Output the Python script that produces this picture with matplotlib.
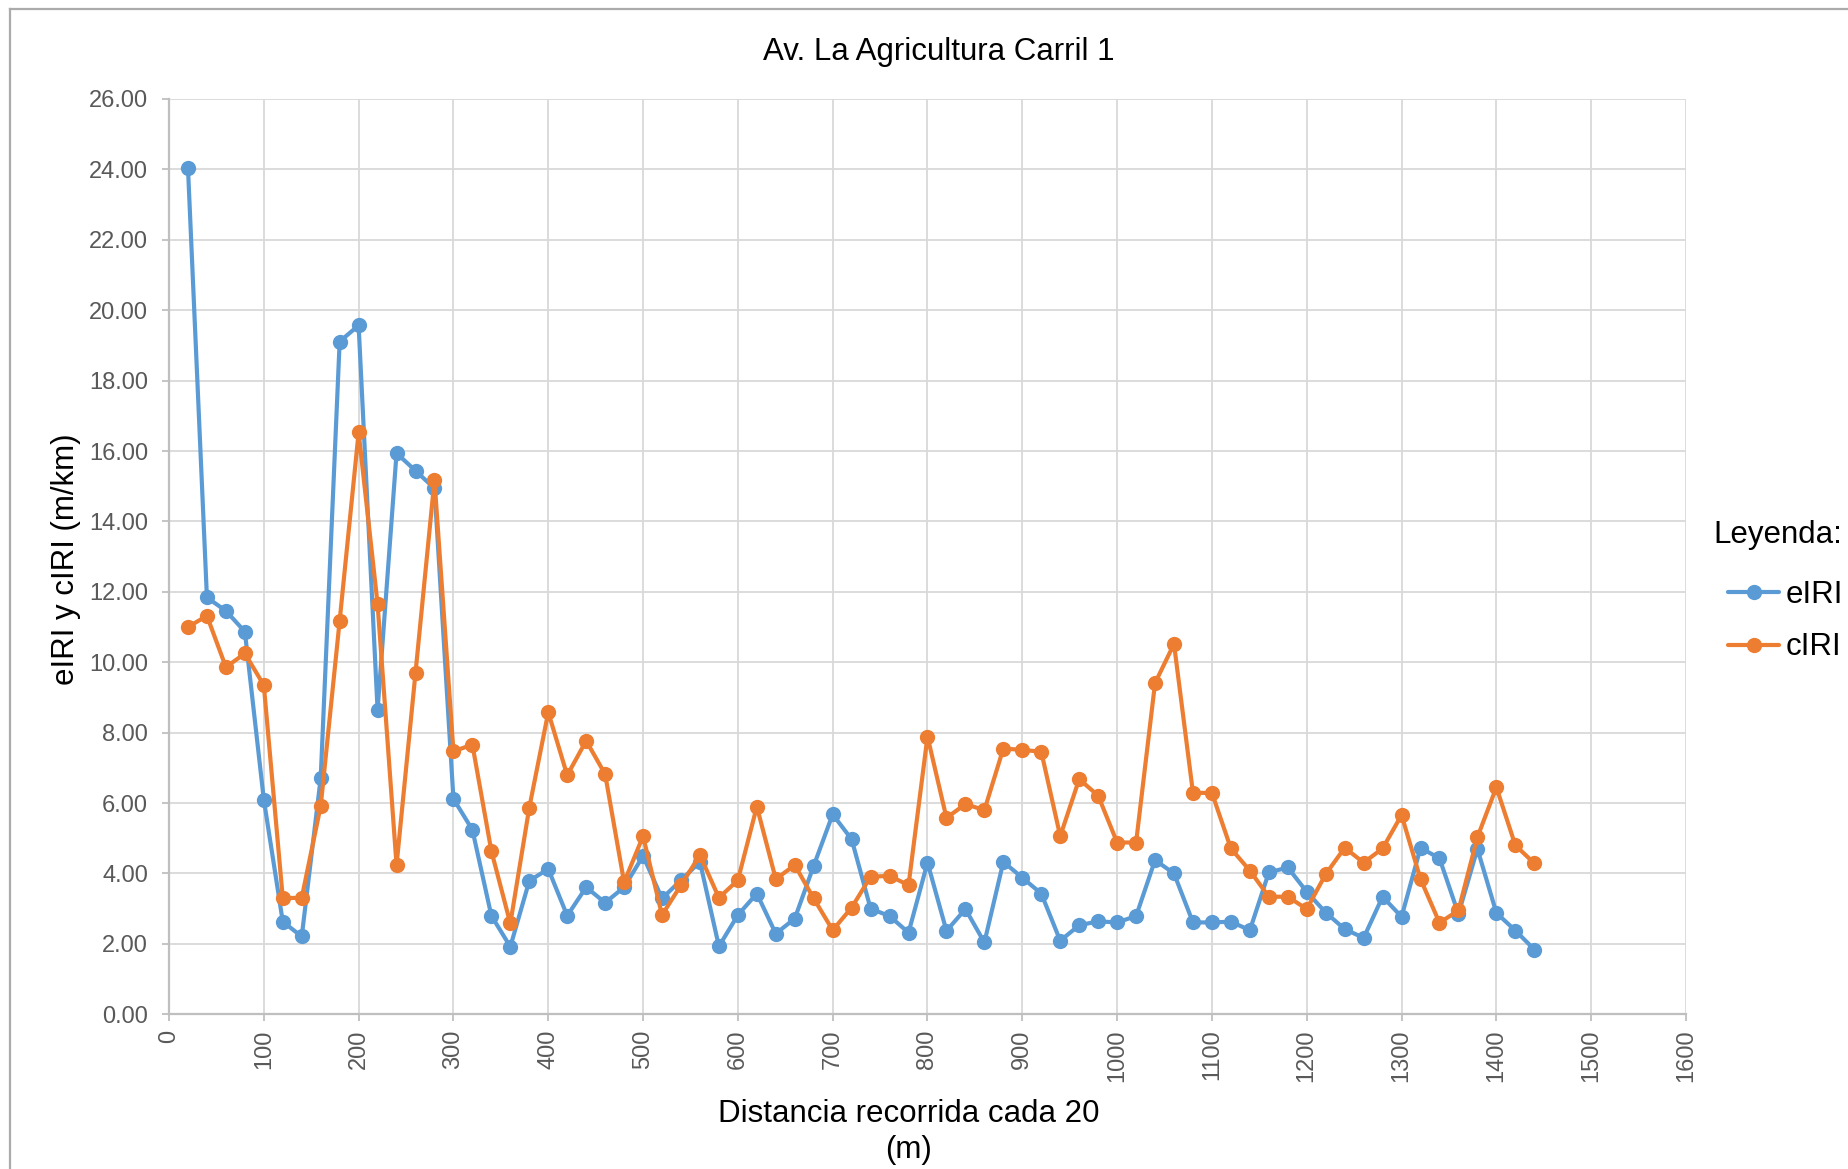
import matplotlib
matplotlib.use("Agg")
import matplotlib.pyplot as plt
from matplotlib.lines import Line2D
import numpy as np

plt.rcParams['font.family'] = ['Liberation Sans', 'DejaVu Sans']

# ---- data ----
distancia = list(range(20, 1441, 20))
eIRI = [24.05, 11.84, 11.46, 10.87, 6.10, 2.63, 2.21, 6.71, 19.11, 19.57,
        8.64, 15.94, 15.44, 14.94, 6.12, 5.24, 2.80, 1.92, 3.79, 4.13,
        2.80, 3.61, 3.17, 3.61, 4.50, 3.29, 3.81, 4.33, 1.93, 2.82,
        3.43, 2.29, 2.72, 4.22, 5.68, 4.97, 3.00, 2.79, 2.32, 4.31,
        2.37, 2.99, 2.04, 4.33, 3.88, 3.43, 2.09, 2.53, 2.64, 2.61,
        2.79, 4.38, 4.00, 2.61, 2.61, 2.63, 2.39, 4.03, 4.17, 3.48,
        2.89, 2.42, 2.17, 3.34, 2.77, 4.73, 4.43, 2.85, 4.70, 2.88,
        2.38, 1.84]
cIRI = [11.00, 11.32, 9.86, 10.25, 9.35, 3.30, 3.31, 5.92, 11.18, 16.53,
        11.65, 4.24, 9.70, 15.18, 7.47, 7.66, 4.64, 2.58, 5.87, 8.58,
        6.79, 7.77, 6.82, 3.75, 5.06, 2.82, 3.67, 4.52, 3.31, 3.81,
        5.90, 3.84, 4.24, 3.29, 2.39, 3.03, 3.91, 3.93, 3.67, 7.89,
        5.58, 5.97, 5.80, 7.55, 7.51, 7.46, 5.06, 6.68, 6.21, 4.88,
        4.88, 9.41, 10.52, 6.29, 6.29, 4.71, 4.08, 3.34, 3.34, 2.99,
        3.98, 4.73, 4.31, 4.71, 5.66, 3.84, 2.60, 2.95, 5.03, 6.45,
        4.80, 4.29]
series_names = ["eIRI", "cIRI"]
series_colors = ["#5B9BD5", "#ED7D31"]
x_ticks = list(range(0, 1601, 100))
y_ticks = list(range(0, 27, 2))

title = "Av. La Agricultura Carril 1"
xlabel = "Distancia recorrida cada 20\n(m)"
ylabel = "eIRI y cIRI (m/km)"
legend_title = "Leyenda:"

W, H = 1849, 1169
fig = plt.figure(figsize=(W / 100, H / 100), dpi=100)
ax = fig.add_axes([169 / W, 1 - 1014.3 / H, (1686 - 169) / W, (1014.3 - 99) / H])

for vals, name, col in zip([eIRI, cIRI], series_names, series_colors):
    ax.plot(distancia, vals, color=col, lw=3.0, marker='o', ms=11, mew=0,
            label=name, solid_capstyle='round', solid_joinstyle='round', zorder=3)

ax.set_xlim(0, 1600)
ax.set_ylim(0, 26)
ax.set_xticks(x_ticks)
ax.set_xticklabels([str(v) for v in x_ticks], rotation=90)
ax.set_yticks(y_ticks)
ax.set_yticklabels([f"{v:.2f}" for v in y_ticks])
ax.grid(True, color="#D9D9D9", lw=1.3, zorder=0)
ax.set_axisbelow(True)
for s in ['top', 'right']:
    ax.spines[s].set_visible(False)
for s in ['left', 'bottom']:
    ax.spines[s].set_color("#BFBFBF")
    ax.spines[s].set_linewidth(1.6)
ax.tick_params(axis='y', direction='out', length=5, width=1.3, color="#BFBFBF",
               labelcolor="#595959", labelsize=17, pad=10)
ax.tick_params(axis='x', direction='out', length=5, width=1.3, color="#BFBFBF",
               labelcolor="#595959", labelsize=17, pad=6)

fig.text(939 / W, 1 - 52 / H, title, ha='center', va='center', fontsize=22.5, color="#000000")
fig.text(909 / W, 1 - 1132 / H, xlabel, ha='center', va='center', fontsize=22.5,
         color="#000000", linespacing=1.25)
fig.text(66 / W, 1 - 559 / H, ylabel, ha='center', va='center', rotation=90,
         fontsize=22.5, color="#000000")

# legend (title drawn separately to control spacing)
fig.text(1778 / W, 1 - 535 / H, legend_title, ha='center', va='center',
         fontsize=22.5, color="#000000")
leg = fig.legend(loc='upper right', bbox_to_anchor=(1843 / W, 1 - 580 / H),
                 frameon=False, fontsize=22.5,
                 handlelength=1.65, handletextpad=0.2,
                 labelspacing=0.72, borderpad=0, borderaxespad=0)
for h in leg.legend_handles:
    h.set_markersize(11)

# outer chart border (partially visible)
fig.add_artist(Line2D([10 / W, 1.0], [1 - 9 / H, 1 - 9 / H], color="#ABABAB", lw=1.6,
                      transform=fig.transFigure))
fig.add_artist(Line2D([10 / W, 10 / W], [1 - 9 / H, 0.0], color="#ABABAB", lw=1.6,
                      transform=fig.transFigure))

fig.savefig("out.png", dpi=100)
